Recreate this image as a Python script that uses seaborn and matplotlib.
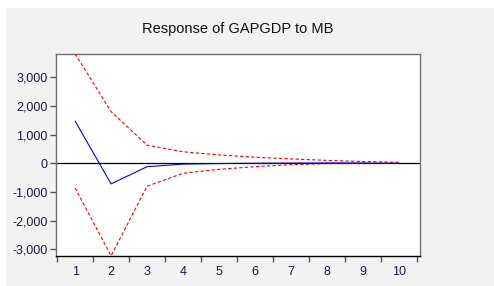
import matplotlib
matplotlib.use("Agg")
import matplotlib.pyplot as plt
import seaborn as sns
import pandas as pd
from matplotlib.patches import Rectangle

periods = [1, 2, 3, 4, 5, 6, 7, 8, 9, 10]
response = [1470, -720, -120, -30, -10, 0, 5, 10, 5, 0]
upper = [3820, 1800, 630, 400, 290, 210, 150, 100, 60, 30]
lower = [-860, -3230, -800, -350, -210, -120, -50, -10, 0, 0]
yticks = [-3000, -2000, -1000, 0, 1000, 2000, 3000]
title = "Response of GAPGDP to MB"

sns.set_theme(style="ticks")
plt.rcParams['font.family'] = ['Liberation Sans', 'DejaVu Sans']

fig = plt.figure(figsize=(4.94, 2.86), dpi=100)
fig.patch.set_facecolor("white")
fig.patches.append(Rectangle((6/494, 0), 1 - 6/494, (286 - 8)/286,
                             transform=fig.transFigure, facecolor="#f2f2f2",
                             edgecolor="none", zorder=-10))

ax = fig.add_axes([56/494, (286-256)/286, (420-56)/494, (256-54)/286])
ax.set_facecolor("white")

df = pd.DataFrame({"period": periods, "response": response,
                   "upper": upper, "lower": lower})

ax.axhline(0, color="black", lw=0.9, zorder=1)
sns.lineplot(data=df, x="period", y="upper", ax=ax, color="red", lw=0.8,
             linestyle=(0, (3, 2)), zorder=3)
sns.lineplot(data=df, x="period", y="lower", ax=ax, color="red", lw=0.8,
             linestyle=(0, (3, 2)), zorder=3)
sns.lineplot(data=df, x="period", y="response", ax=ax, color="blue", lw=0.8,
             zorder=4)

ax.set_xlim(0.47, 10.58)
ax.set_ylim(-3235, 3810)
ax.set_xticks(periods)
ax.set_xticklabels([str(p) for p in periods])
ax.set_xticks([p + 0.5 for p in [0] + periods], minor=True)
ax.set_yticks(yticks)
ax.set_yticklabels([f"{v:,}" for v in yticks])
ax.tick_params(axis="x", which="major", bottom=True, length=0, pad=7, labelsize=9, labelcolor="#1a1a40")
ax.tick_params(axis="x", which="minor", bottom=True, length=4, width=1, color="#555555", direction="out")
ax.tick_params(axis="y", which="major", left=True, length=4, width=1, color="#555555", direction="out",
               labelsize=9, labelcolor="#1a1a40", pad=2)
ax.tick_params(axis="y", which="minor", left=False)
ax.set_xlabel("")
ax.set_ylabel("")

for side in ["top", "right", "left"]:
    ax.spines[side].set_visible(True)
    ax.spines[side].set_color("#707070")
    ax.spines[side].set_linewidth(1.0)
ax.spines["bottom"].set_color("black")
ax.spines["bottom"].set_linewidth(1.0)

fig.text(238/494, 1 - 29/286, title, ha="center", va="center", fontsize=10.5, color="#111111")

fig.savefig("out.png", dpi=100, facecolor=fig.get_facecolor())
